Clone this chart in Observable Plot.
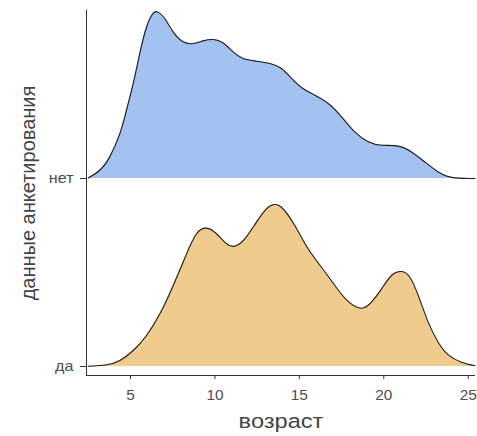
<!DOCTYPE html>
<html>
<head>
<meta charset="utf-8">
<script src="https://cdn.jsdelivr.net/npm/d3@7"></script>
<script src="https://cdn.jsdelivr.net/npm/@observablehq/plot@0.6"></script>
<style>
  html, body { margin: 0; padding: 0; background: #fff; }
  #chart { width: 477px; height: 436px; }
</style>
</head>
<body>
<div id="chart"></div>
<script>
// categories (bottom to top)
const categories = ["да", "нет"];
const categoryPos = [1, 2];
const xTicks = [5, 10, 15, 20, 25];

// "нет" density (age, relative ridge height)
const netX = [2.5, 3.18, 3.77, 4.37, 4.76, 5.16, 5.55, 5.95, 6.34, 6.64, 7.03, 7.53, 8.12, 8.71, 9.31, 9.90, 10.49, 11.08, 11.67, 12.46, 13.25, 13.94, 14.54, 15.13, 15.92, 16.71, 17.50, 18.28, 19.08, 19.87, 20.85, 21.64, 22.43, 23.22, 24.01, 25.0, 25.4];
const netH = [0.003, 0.044, 0.115, 0.239, 0.363, 0.505, 0.665, 0.806, 0.878, 0.885, 0.851, 0.780, 0.727, 0.718, 0.732, 0.739, 0.721, 0.673, 0.638, 0.624, 0.612, 0.585, 0.532, 0.484, 0.443, 0.399, 0.328, 0.248, 0.195, 0.177, 0.172, 0.141, 0.088, 0.035, 0.006, 0.0, 0.0];

// "да" density
const daX = [2.5, 3.58, 4.37, 5.16, 5.95, 6.74, 7.53, 8.32, 8.91, 9.50, 10.09, 10.69, 11.18, 11.77, 12.46, 13.05, 13.45, 13.94, 14.73, 15.52, 16.31, 17.10, 17.89, 18.68, 19.27, 19.87, 20.46, 21.05, 21.54, 22.04, 22.63, 23.22, 23.82, 24.60, 25.4];
const daH = [0.001, 0.009, 0.032, 0.085, 0.165, 0.280, 0.431, 0.599, 0.706, 0.736, 0.706, 0.653, 0.640, 0.679, 0.768, 0.839, 0.860, 0.847, 0.750, 0.626, 0.528, 0.431, 0.346, 0.310, 0.342, 0.413, 0.484, 0.505, 0.475, 0.378, 0.236, 0.129, 0.062, 0.023, 0.004];

const fills = {"нет": "#a4c2ef", "да": "#efcc8d"};

const rows = [];
netX.forEach((x, i) => rows.push({cat: "нет", x, base: 2, top: 2 + netH[i]}));
daX.forEach((x, i) => rows.push({cat: "да", x, base: 1, top: 1 + daH[i]}));

const chart = Plot.plot({
  width: 477,
  height: 436,
  marginLeft: 86,
  marginRight: 2,
  marginTop: 10,
  marginBottom: 61,
  style: {fontFamily: "'Liberation Sans', Arial, sans-serif", background: "#fff"},
  x: {domain: [2.394, 25.43]},
  y: {domain: [0.9521, 2.8936]},
  marks: [
    Plot.areaY(rows, {x: "x", y1: "base", y2: "top", z: "cat", fill: d => fills[d.cat], curve: "natural"}),
    Plot.line(rows, {x: "x", y: "top", z: "cat", stroke: "#1a1a1a", strokeWidth: 1.1, curve: "natural"}),
    Plot.axisX({ticks: xTicks, tickSize: 4, tickPadding: 11, fontSize: 14, color: "#4d4d4d", stroke: "#333",
      label: "возраст", labelAnchor: "center", labelArrow: "none", labelOffset: 52}),
    Plot.axisY({ticks: categoryPos, tickFormat: d => categories[categoryPos.indexOf(d)], tickSize: 6, tickPadding: 7, fontSize: 14, color: "#4d4d4d", stroke: "#333",
      label: "данные анкетирования", labelAnchor: "center", labelArrow: "none", labelOffset: 66}),
    Plot.ruleX([2.394], {stroke: "#333", strokeWidth: 1}),
    Plot.ruleY([0.9521], {stroke: "#333", strokeWidth: 1})
  ]
});
document.getElementById("chart").appendChild(chart);

// text sizing (reference glyphs are slightly wide)
function stretch(sel, factor) {
  chart.querySelectorAll(sel).forEach(t => {
    const w = t.getComputedTextLength();
    t.setAttribute("textLength", (w * factor).toFixed(1));
    t.setAttribute("lengthAdjust", "spacingAndGlyphs");
  });
}
chart.querySelectorAll("[aria-label='x-axis label'] text, [aria-label='y-axis label'] text").forEach(t => {
  t.setAttribute("font-size", "20");
  t.style.fontSize = "20px";
  t.setAttribute("fill", "#444");
});
stretch("[aria-label='x-axis tick label'] text", 1.1);
stretch("[aria-label='y-axis tick label'] text", 1.15);
stretch("[aria-label='x-axis label'] text", 1.18);
stretch("[aria-label='y-axis label'] text", 1.0);
</script>
</body>
</html>
